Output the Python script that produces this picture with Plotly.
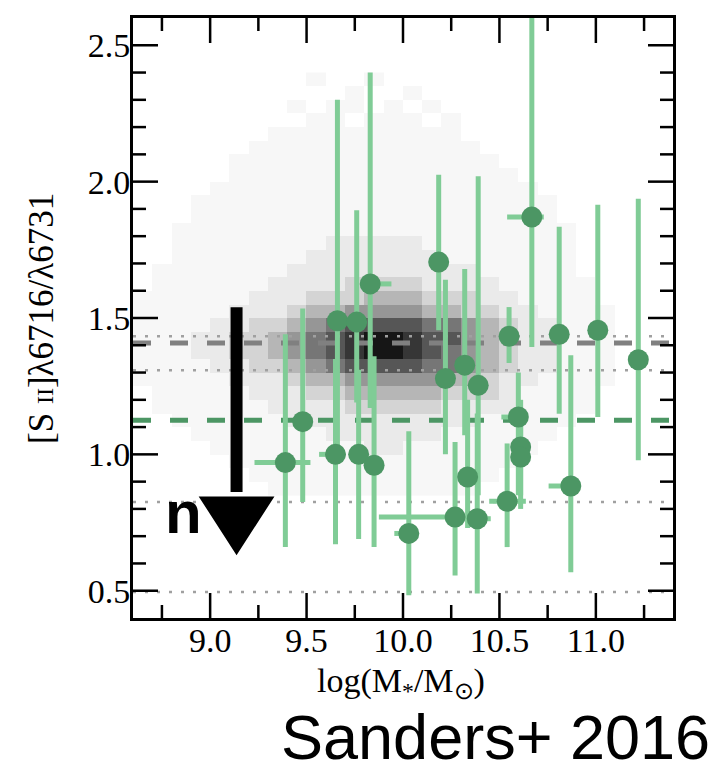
import plotly.graph_objects as go
import numpy as np

# ---------------- data ----------------
mass = [9.39, 9.48, 9.66, 9.65, 9.76, 9.77, 9.83, 9.85, 10.03, 10.185, 10.22, 10.27, 10.32,
        10.335, 10.39, 10.385, 10.54, 10.55, 10.598, 10.61, 10.61, 10.668, 10.81, 10.87, 11.01, 11.22]
ratio = [0.97, 1.12, 1.49, 1.00, 1.485, 1.00, 1.625, 0.96, 0.71, 1.705, 1.278, 0.77, 1.327,
         0.917, 1.253, 0.764, 0.828, 1.433, 1.137, 1.027, 0.99, 1.87, 1.44, 0.884, 1.455, 1.347]
ratio_lo = [0.66, 0.825, 1.0, 0.67, 1.19, 0.69, 1.17, 0.66, 0.483, 1.455, 1.0, 0.556, 1.07,
            0.73, 0.85, 0.49, 0.66, 1.335, 0.85, 0.80, 0.85, 1.394, 1.149, 0.568, 1.137, 0.978]
ratio_hi = [1.44, 1.535, 2.30, 1.35, 1.895, 1.31, 2.40, 1.36, 1.085, 2.025, 1.64, 1.045, 1.68,
            1.20, 2.02, 1.15, 1.04, 1.54, 1.30, 1.15, 1.20, 2.65, 1.835, 1.363, 1.915, 1.937]
mass_lo = [9.23, None, None, 9.565, None, None, None, None, 9.955, None, None, 9.875, None,
           None, None, 10.33, 10.447, None, 10.51, None, None, 10.54, None, 10.755, None, None]
mass_hi = [9.52, None, None, 9.70, None, None, 9.94, None, None, None, None, 10.30, None,
           None, None, 10.455, 10.637, None, 10.62, None, None, 10.73, None, None, None, None]

# reference levels (horizontal lines)
sdss_median = 1.408
sdss_dotted = [1.433, 1.308]
sample_median = 1.125
density_dotted = [0.825, 0.495]

# background 2D density (estimated grey level 0..9, rows from top)
dens_x = [8.65, 8.75, 8.85, 8.95, 9.05, 9.15, 9.25, 9.35, 9.45, 9.55, 9.65, 9.75, 9.85,
          9.95, 10.05, 10.15, 10.25, 10.35, 10.45, 10.55, 10.65, 10.75, 10.85, 10.95, 11.05, 11.15]
dens_y = [2.375, 2.325, 2.275, 2.225, 2.175, 2.125, 2.075, 2.025, 1.975, 1.925, 1.875, 1.825,
          1.775, 1.725, 1.675, 1.625, 1.575, 1.525, 1.475, 1.425, 1.375, 1.325, 1.275, 1.225,
          1.175, 1.125, 1.075, 1.025, 0.975, 0.925, 0.875]
dens_rows = [
    "00000000010010000000000000",
    "00000000000100100000000000",
    "00000000101101010000000000",
    "00000000011011101000000000",
    "00000001111111111000000000",
    "00000011111111111100000000",
    "00000111111111111110000000",
    "00000111111111111111000000",
    "00001111111111111111100000",
    "00011111111111111111110000",
    "00011111111111111111110000",
    "00111111111111111111111000",
    "00111111112222211111111000",
    "00111111122222221111111000",
    "01111111222222222211111000",
    "01111112222333322221111100",
    "11111122233344433322111100",
    "11111222344555544332211110",
    "11112233456777766543221110",
    "11122334567899877543221110",
    "11122334567899876543221110",
    "11112233456777766543221110",
    "11111222344555554432211110",
    "01111122233444443332111100",
    "01111112222333332222111100",
    "00111111222222222211111000",
    "00011111112222221111110000",
    "00001111111122111111100000",
    "00000111111111111111000000",
    "00000011111111111110000000",
    "00000001111111111100000000",
]

x_range = [8.6, 11.4]
y_range = [0.4, 2.6]
x_major = [9.0, 9.5, 10.0, 10.5, 11.0]
x_minor = [8.75, 9.25, 9.75, 10.25, 10.75, 11.25]
y_major = [0.5, 1.0, 1.5, 2.0, 2.5]
y_minor = [0.6, 0.7, 0.8, 0.9, 1.1, 1.2, 1.3, 1.4, 1.6, 1.7, 1.8, 1.9, 2.1, 2.2, 2.3, 2.4]

# arrow annotation geometry (data units)
arrow_x = 9.137
arrow_top = 1.539
arrow_head_top = 0.842
arrow_tip = 0.637
arrow_half = 0.187

# ---------------- styles ----------------
W, H = 721, 769
ML, MR, MT, MB = 133, 48, 18, 151
MARK = "#4c9664"
ERR = "#80cc96"
SERIF = "Liberation Serif"
SANS = "Liberation Sans"
grey = [255, 247, 234, 212, 182, 150, 118, 86, 54, 22]
cscale = [[i / 9, f"rgb({g},{g},{g})"] for i, g in enumerate(grey)]
MAJOR_LEN, MINOR_LEN = 25, 13  # tick lengths in px

z = [[int(c) for c in row] for row in dens_rows]

fig = go.Figure()
fig.add_trace(go.Heatmap(x=dens_x, y=dens_y, z=z, zmin=0, zmax=9, colorscale=cscale,
                         showscale=False, hoverinfo="skip", zsmooth=False))

def hline(v, color, width, dash):
    fig.add_trace(go.Scatter(x=x_range, y=[v, v], mode="lines",
                             line=dict(color=color, width=width, dash=dash),
                             hoverinfo="skip"))

for v in sdss_dotted + density_dotted:
    hline(v, "#a0a0a0", 2.5, "3px,9px")
hline(sdss_median, "#808080", 5, "18px,19px")
hline(sample_median, MARK, 5, "18px,19px")

m = np.array(mass)
r = np.array(ratio)
e_up = np.array(ratio_hi) - r
e_dn = r - np.array(ratio_lo)
x_up = np.array([0 if h is None else h - x for h, x in zip(mass_hi, mass)])
x_dn = np.array([0 if l is None else x - l for l, x in zip(mass_lo, mass)])

fig.add_trace(go.Scatter(
    x=m, y=r, mode="markers",
    marker=dict(size=21, color=MARK, line=dict(width=0)),
    error_y=dict(type="data", symmetric=False, array=e_up, arrayminus=e_dn,
                 color=ERR, thickness=5, width=0),
    error_x=dict(type="data", symmetric=False, array=x_up, arrayminus=x_dn,
                 color=ERR, thickness=5, width=0),
    hoverinfo="skip"))

# inward tick marks on all four sides, as thin line traces on the axis scales
ux = (x_range[1] - x_range[0]) / (W - ML - MR)   # data units per px
uy = (y_range[1] - y_range[0]) / (H - MT - MB)
tx, ty = [], []
for vals, length in ((x_major, MAJOR_LEN), (x_minor, MINOR_LEN)):
    for v in vals:
        tx += [v, v, None, v, v, None]
        ty += [y_range[0], y_range[0] + length * uy, None,
               y_range[1], y_range[1] - length * uy, None]
for vals, length in ((y_major, MAJOR_LEN), (y_minor, MINOR_LEN)):
    for v in vals:
        tx += [x_range[0], x_range[0] + length * ux, None,
               x_range[1], x_range[1] - length * ux, None]
        ty += [v, v, None, v, v, None]
fig.add_trace(go.Scatter(x=tx, y=ty, mode="lines", line=dict(color="black", width=2.5),
                         hoverinfo="skip", connectgaps=False))

# arrow
fig.add_shape(type="line", x0=arrow_x, x1=arrow_x, y0=arrow_top, y1=arrow_head_top + 0.02,
              line=dict(color="black", width=12), layer="above")
fig.add_shape(type="path",
              path=f"M {arrow_x - arrow_half},{arrow_head_top} L {arrow_x + arrow_half},{arrow_head_top} "
                   f"L {arrow_x},{arrow_tip} Z",
              fillcolor="black", line=dict(color="black", width=2), layer="above")

tickfont = dict(family=SERIF, size=34, color="black")
axis_style = dict(ticks="", showline=True, linewidth=3, linecolor="black", mirror=True,
                  showgrid=False, zeroline=False, tickformat=".1f", tickfont=tickfont)

fig.update_layout(
    xaxis=dict(range=x_range, tickmode="array", tickvals=x_major, ticklabelstandoff=-10,
               **axis_style),
    yaxis=dict(range=y_range, tickmode="array", tickvals=y_major, ticklabelstandoff=-7,
               **axis_style),
)

fig.add_annotation(text="log(M<sub>*</sub>/M<sub>⊙</sub>)", xref="paper", yref="paper",
                   x=0.496, y=-0.108, xanchor="center", yanchor="middle", showarrow=False,
                   font=dict(family=SERIF, size=34, color="black"))
fig.add_annotation(text="[S <span style='font-size:24px'>II</span>]λ6716/λ6731",
                   xref="paper", yref="paper", x=-0.1704, y=0.5, textangle=-90,
                   xanchor="center", yanchor="middle", showarrow=False,
                   font=dict(family=SERIF, size=35, color="black"))
fig.add_annotation(text="<b>n</b>", xref="x", yref="y", x=8.861, y=0.787,
                   xanchor="center", yanchor="middle", showarrow=False,
                   font=dict(family=SANS, size=60, color="black"))
fig.add_annotation(text="Sanders+ 2016", xref="paper", yref="paper", x=1.072, y=-0.198,
                   xanchor="right", yanchor="middle", showarrow=False,
                   font=dict(family=SANS, size=63, color="black"))

fig.update_layout(width=W, height=H, margin=dict(l=ML, r=MR, t=MT, b=MB),
                  plot_bgcolor="white", paper_bgcolor="white", showlegend=False)

fig.write_html("out.html")
